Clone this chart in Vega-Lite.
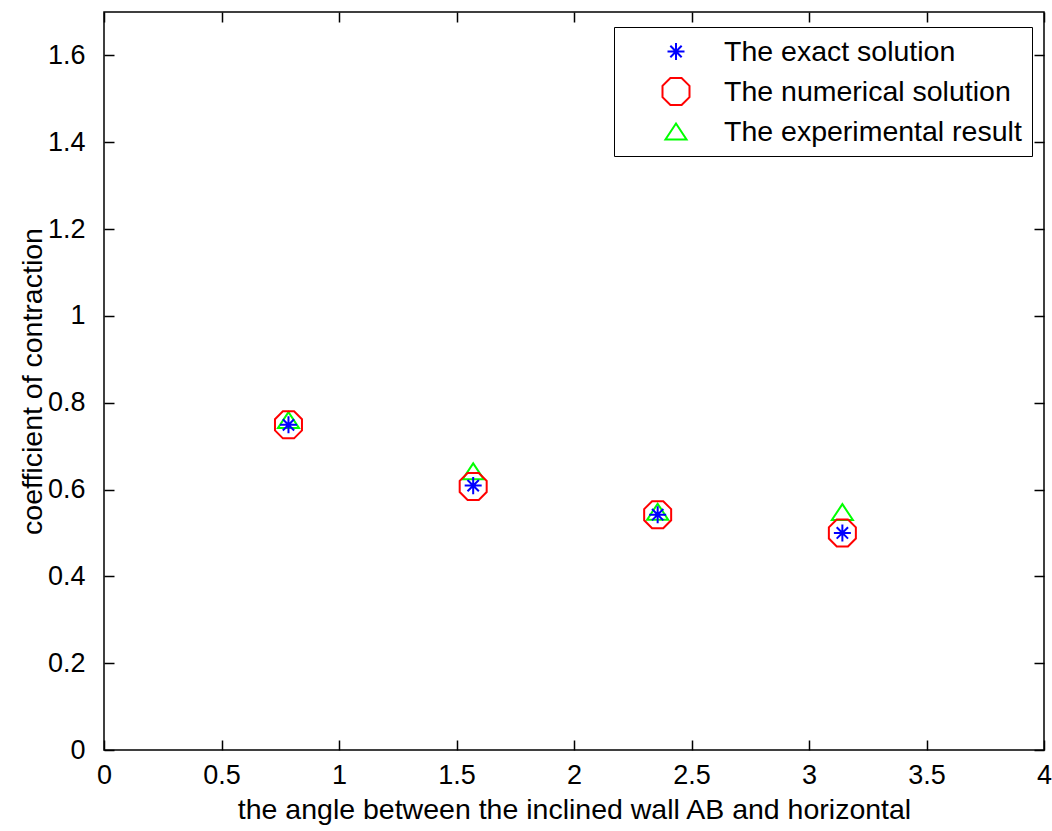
{
  "$schema": "https://vega.github.io/schema/vega-lite/v6.json",
  "width": 940,
  "height": 738,
  "autosize": {"type": "none"},
  "padding": {"left": 104, "top": 12, "right": 8, "bottom": 81},
  "background": "white",
  "config": {
    "view": {"stroke": "black", "strokeWidth": 1.5},
    "font": "Liberation Sans",
    "axis": {
      "grid": false,
      "domain": false,
      "tickColor": "black",
      "tickWidth": 1.5,
      "tickSize": -10,
      "labelColor": "black",
      "labelFont": "Liberation Sans",
      "labelFontSize": 27,
      "titleFont": "Liberation Sans",
      "titleFontSize": 28.5,
      "titleFontWeight": "normal",
      "titleColor": "black"
    }
  },
  "data": {
    "values": [
      {"series": "The experimental result", "angle": 0.785, "cc": 0.76},
      {"series": "The experimental result", "angle": 1.571, "cc": 0.642},
      {"series": "The experimental result", "angle": 2.356, "cc": 0.549},
      {"series": "The experimental result", "angle": 3.142, "cc": 0.548},
      {"series": "The numerical solution", "angle": 0.785, "cc": 0.749},
      {"series": "The numerical solution", "angle": 1.571, "cc": 0.607},
      {"series": "The numerical solution", "angle": 2.356, "cc": 0.542},
      {"series": "The numerical solution", "angle": 3.142, "cc": 0.5},
      {"series": "The exact solution", "angle": 0.785, "cc": 0.749},
      {"series": "The exact solution", "angle": 1.571, "cc": 0.609},
      {"series": "The exact solution", "angle": 2.356, "cc": 0.542},
      {"series": "The exact solution", "angle": 3.142, "cc": 0.5}
    ]
  },
  "layer": [
    {
      "mark": {"type": "point", "filled": false, "strokeWidth": 2, "size": 729, "opacity": 1},
      "encoding": {
        "x": {
          "field": "angle", "type": "quantitative",
          "scale": {"domain": [0, 4], "nice": false, "zero": false},
          "axis": {
            "orient": "bottom",
            "values": [0, 0.5, 1, 1.5, 2, 2.5, 3, 3.5, 4],
            "format": "~g",
            "labelPadding": 22,
            "labelFlush": false,
            "title": "the angle between the inclined wall AB and horizontal",
            "titleX": 470,
            "titleY": 68,
            "titleBaseline": "alphabetic"
          }
        },
        "y": {
          "field": "cc", "type": "quantitative",
          "scale": {"domain": [0, 1.7], "nice": false, "zero": false},
          "axis": {
            "orient": "left",
            "values": [0, 0.2, 0.4, 0.6, 0.8, 1, 1.2, 1.4, 1.6],
            "format": "~g",
            "labelPadding": 29,
            "labelFlush": false,
            "title": "coefficient of contraction",
            "titleX": -63,
            "titleY": 369,
            "titleAngle": -90,
            "titleAlign": "center",
            "titleBaseline": "alphabetic"
          }
        },
        "color": {
          "field": "series", "type": "nominal",
          "scale": {
            "domain": ["The exact solution", "The numerical solution", "The experimental result"],
            "range": ["#0000ff", "#ff0000", "#00ff00"]
          },
          "legend": {
            "title": null,
            "orient": "none",
            "legendX": 510,
            "legendY": 15,
            "padding": 10,
            "symbolOffset": 37.5,
            "labelOffset": 33.5,
            "rowPadding": 8,
            "labelFontSize": 28.5,
            "labelFont": "Liberation Sans",
            "labelColor": "black",
            "labelLimit": 500,
            "strokeColor": "black",
            "fillColor": "white",
            "symbolStrokeWidth": 2,
            "symbolSize": 729,
            "symbolFillColor": "transparent"
          }
        },
        "shape": {
          "field": "series", "type": "nominal",
          "scale": {
            "domain": ["The exact solution", "The numerical solution", "The experimental result"],
            "range": [
              "M-0.63,0L0.63,0M0,-0.63L0,0.63M-0.42,-0.42L0.42,0.42M-0.42,0.42L0.42,-0.42",
              "M-0.414,-1L0.414,-1L1,-0.414L1,0.414L0.414,1L-0.414,1L-1,0.414L-1,-0.414Z",
              "M0,-0.59L0.78,0.59L-0.78,0.59Z"
            ]
          }
        }
      }
    },
    {
      "mark": {"type": "point", "opacity": 0},
      "encoding": {
        "x": {
          "field": "angle", "type": "quantitative",
          "scale": {"domain": [0, 4], "nice": false, "zero": false},
          "axis": {"orient": "top", "values": [0, 0.5, 1, 1.5, 2, 2.5, 3, 3.5, 4], "labels": false, "title": null}
        },
        "y": {
          "field": "cc", "type": "quantitative",
          "scale": {"domain": [0, 1.7], "nice": false, "zero": false},
          "axis": {"orient": "right", "values": [0, 0.2, 0.4, 0.6, 0.8, 1, 1.2, 1.4, 1.6], "labels": false, "title": null}
        }
      }
    }
  ],
  "resolve": {"axis": {"x": "independent", "y": "independent"}}
}
